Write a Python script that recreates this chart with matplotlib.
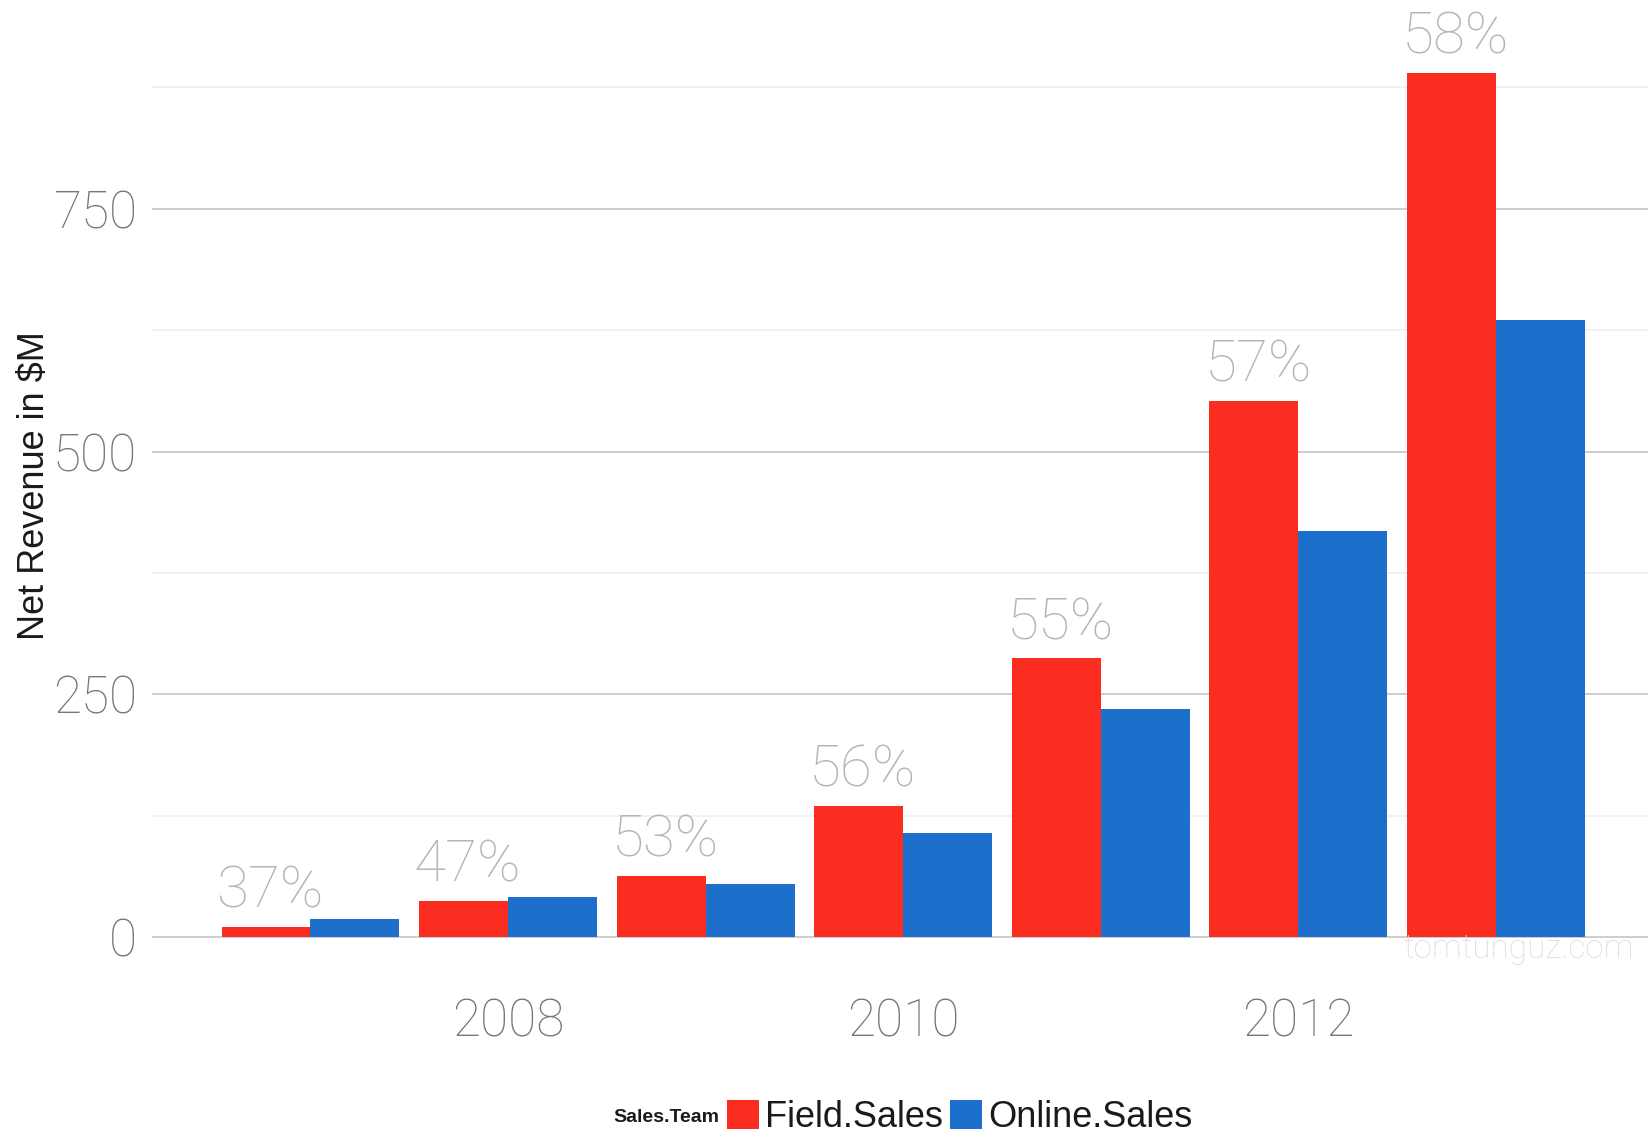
"""
Net revenue by year, split by sales team, with the field-sales share on top of each pair.
"""

import matplotlib.pyplot as plt
import numpy as np
from matplotlib.patches import Patch

years = [2007, 2008, 2009, 2010, 2011, 2012, 2013]
field_sales = [11, 37, 63, 135, 287, 552, 890]
online_sales = [19, 41, 55, 107, 235, 418, 636]
share_labels = ["37%", "47%", "53%", "56%", "55%", "57%", "58%"]

year_ticks = [2008, 2010, 2012]
y_ticks = [0, 250, 500, 750]
y_minor = [125, 375, 625, 875]

RED = "#fb2d20"
BLUE = "#1c70cc"
NUM_FONT = ["Roboto", "DejaVu Sans"]
TXT_FONT = ["Liberation Sans", "DejaVu Sans"]

fig = plt.figure(figsize=(16.48, 11.4), dpi=100)
ax = fig.add_axes([0.0925, 0.140, 0.9075, 0.834])

x = np.array(years, dtype=float)
width = 0.45
ax.bar(x - width / 2, field_sales, width, color=RED, zorder=3)
ax.bar(x + width / 2, online_sales, width, color=BLUE, zorder=3)

for xi, val, lab in zip(x, field_sales, share_labels):
    ax.annotate(lab, (xi - width / 2, val), xytext=(3, 14), textcoords="offset points",
                ha="center", va="baseline", fontsize=42, color="#b5b5b5",
                family=NUM_FONT, fontweight="light", annotation_clip=False)

ax.set_xlim(2006.2, 2013.77)
ax.set_ylim(-44.5, 934.5)
ax.set_xticks(year_ticks)
ax.set_xticklabels([str(y) for y in year_ticks])
ax.set_yticks(y_ticks)
ax.set_yticks(y_minor, minor=True)

ax.grid(axis="y", which="major", color="#cdcdcd", linewidth=1.4, zorder=0)
ax.grid(axis="y", which="minor", color="#f1f1f1", linewidth=1.4, zorder=0)
ax.tick_params(axis="both", which="both", length=0)
ax.tick_params(axis="y", pad=11)
ax.tick_params(axis="x", pad=12)
for lab in ax.get_xticklabels() + ax.get_yticklabels():
    lab.set_fontsize(37)
    lab.set_color("#767676")
    lab.set_family(NUM_FONT)
    lab.set_fontweight("light")
for s in ax.spines.values():
    s.set_visible(False)

fig.text(0.021, 0.574, "Net Revenue in $M", rotation=90, ha="center", va="center",
         fontsize=26, color="#1a1a1a", family=TXT_FONT)

fig.text(1403 / 1648, 0.1675, "tomtunguz.com", ha="left", va="center",
         fontsize=24, color="#dcdcdc", family=NUM_FONT, fontweight="light")

# legend: title to the left, keys laid out in a row
fig.text(0.372, 0.020, "Sales.Team", ha="left", va="center", fontsize=14,
         fontweight="bold", color="#1a1a1a", family=TXT_FONT)
handles = [Patch(facecolor=RED, label="Field.Sales"), Patch(facecolor=BLUE, label="Online.Sales")]
leg = fig.legend(handles=handles, loc="center", bbox_to_anchor=(960 / 1648, 0.020), ncol=2,
                 frameon=False, handlelength=0.88, handleheight=0.88, handletextpad=0.17,
                 columnspacing=0.2, borderpad=0, borderaxespad=0,
                 prop={"family": TXT_FONT, "size": 26})
for t in leg.get_texts():
    t.set_color("#1a1a1a")

fig.savefig("out.png", dpi=100, facecolor="white")
